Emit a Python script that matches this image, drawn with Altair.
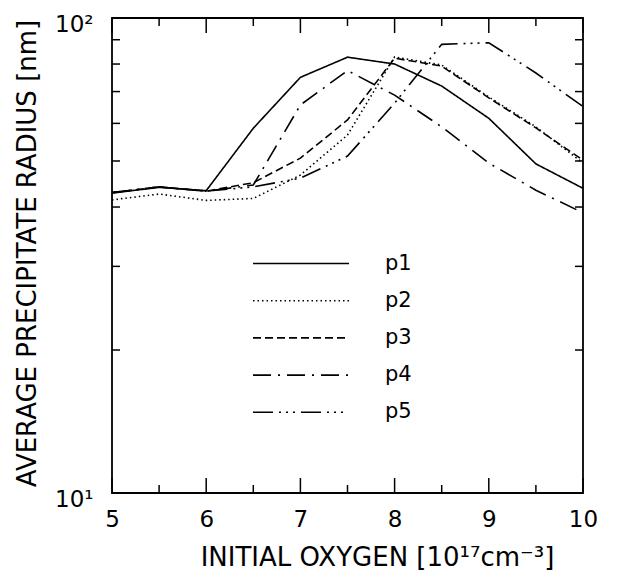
import altair as alt
import pandas as pd

# ---- data ----
oxygen = [5, 5.5, 6, 6.5, 7, 7.5, 8, 8.5, 9, 9.5, 10]
p1 = [42.8, 44.0, 43.3, 58.6, 75.0, 82.7, 80.0, 71.9, 61.5, 49.3, 43.8]
p2 = [41.4, 42.6, 41.3, 41.7, 46.7, 56.7, 82.8, 79.6, 68.2, 59.0, 49.5]
p3 = [42.9, 44.1, 43.2, 45.0, 50.7, 61.0, 82.3, 79.2, 67.9, 58.7, 50.2]
p4 = [42.9, 44.1, 43.2, 44.5, 65.6, 77.5, 68.8, 59.0, 49.5, 43.4, 38.9]
p5 = [42.9, 44.1, 43.2, 44.1, 46.0, 51.2, 66.2, 88.0, 88.7, 76.6, 65.1]
series_names = ["p1", "p2", "p3", "p4", "p5"]
series_values = [p1, p2, p3, p4, p5]

x_major_ticks = [5, 6, 7, 8, 9, 10]
x_minor_ticks = [5.5, 6.5, 7.5, 8.5, 9.5]
y_label_ticks = [10, 100]
y_minor_ticks = [20, 30, 40, 50, 60, 70, 80, 90]

# ---- styles ----
dash_styles = [[1, 0], [1.5, 3], [8, 4], [18, 7, 2, 7], [20, 6, 2, 5, 2, 5, 2, 6]]
FONT = "DejaVu Sans"
W, H = 471, 475

rows = []
for name, vals in zip(series_names, series_values):
    for xv, yv in zip(oxygen, vals):
        rows.append({"oxygen": xv, "radius": yv, "series": name})
df = pd.DataFrame(rows)

xscale = alt.Scale(domain=[5, 10], nice=False, zero=False)
yscale = alt.Scale(type="log", domain=[10, 100], nice=False)

xaxis = alt.Axis(values=x_major_ticks, format="d", ticks=False, domain=False, grid=False,
                 labelFontSize=23, labelFont=FONT, labelPadding=15, labelColor="black",
                 labelFlush=False,
                 title="INITIAL OXYGEN  [10¹⁷cm⁻³]", titleFont=FONT, titleFontSize=26,
                 titleFontWeight="normal", titleColor="black", titleY=51, titleX=265,
                 titleBaseline="top")
yaxis = alt.Axis(values=y_label_ticks, ticks=False, domain=False, grid=False,
                 labelExpr="datum.value >= 100 ? '10²' : '10¹'",
                 labelFontSize=23, labelFont=FONT, labelPadding=19, labelColor="black",
                 labelOffset=6, labelFlush=False,
                 title="AVERAGE PRECIPITATE RADIUS [nm]", titleFont=FONT, titleFontSize=26,
                 titleFontWeight="normal", titleColor="black", titleX=-77, titleY=235,
                 titleBaseline="alphabetic")

lines = alt.Chart(df).mark_line(color="black", strokeWidth=1.6).encode(
    x=alt.X("oxygen:Q", scale=xscale, axis=xaxis),
    y=alt.Y("radius:Q", scale=yscale, axis=yaxis),
    strokeDash=alt.StrokeDash("series:N",
                              scale=alt.Scale(domain=series_names, range=dash_styles),
                              legend=alt.Legend(title=None, orient="none", legendX=140, legendY=232,
                                                symbolType="stroke", symbolSize=9216,
                                                symbolStrokeColor="black", symbolStrokeWidth=1.6,
                                                labelFontSize=21, labelFont=FONT, labelColor="black",
                                                labelOffset=35, clipHeight=27, rowPadding=10.2)),
    detail="series:N",
)

xmaj = pd.DataFrame({"oxygen": x_major_ticks})
xmin = pd.DataFrame({"oxygen": x_minor_ticks})
ymin = pd.DataFrame({"radius": y_minor_ticks})

def xtick(data, y0, y1):
    return alt.Chart(data).mark_rule(color="black", strokeWidth=1.5).encode(
        x=alt.X("oxygen:Q", scale=xscale, axis=xaxis), y=alt.value(y0), y2=alt.value(y1))

def ytick(data, x0, x1):
    return alt.Chart(data).mark_rule(color="black", strokeWidth=1.5).encode(
        y=alt.Y("radius:Q", scale=yscale, axis=yaxis), x=alt.value(x0), x2=alt.value(x1))

ticks = [
    xtick(xmaj, H, H - 15), xtick(xmaj, 0, 15),
    xtick(xmin, H, H - 8), xtick(xmin, 0, 8),
    ytick(ymin, 0, 8), ytick(ymin, W, W - 8),
]

chart = alt.layer(lines, *ticks).properties(
    width=W, height=H,
    background="white",
    autosize=alt.AutoSizeParams(type="none"),
    padding={"left": 104, "top": 10, "right": 20, "bottom": 80},
).configure_view(stroke="black", strokeWidth=1.8)

chart.save("out.html", embed_options={"renderer": "svg", "actions": False})
